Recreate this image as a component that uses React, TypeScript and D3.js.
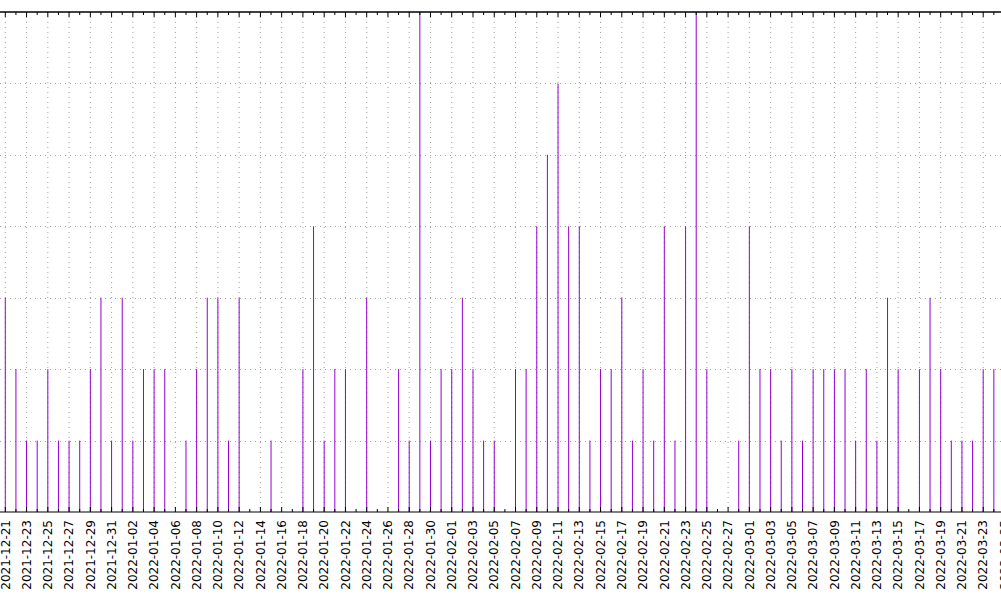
import React from 'react';
import * as d3 from 'd3';

// daily counts, starting at 2021-12-21
const startDay = '2021-12-21';
const counts: number[] = [
  3, 2, 1, 1, 2, 1, 1, 1, 2, 3, 1, 3, 1, 2, 2, 2, 0, 1, 2, 3,
  3, 1, 3, 0, 0, 1, 0, 0, 2, 4, 1, 2, 2, 0, 3, 0, 0, 2, 1, 7,
  1, 2, 2, 3, 2, 1, 1, 0, 2, 2, 4, 5, 6, 4, 4, 1, 2, 2, 3, 1,
  2, 1, 4, 1, 4, 7, 2, 0, 0, 1, 4, 2, 2, 1, 2, 1, 2, 2, 2, 2,
  1, 2, 1, 3, 2, 0, 2, 3, 2, 1, 1, 1, 2, 2,
];
const yTicks = [0, 1, 2, 3, 4, 5, 6, 7];

const width = 1001;
const height = 602;
const plotTop = 12;
const plotBottom = 512;
const purple = '#9400d3';
const gridColor = '#a0a0a0';

const parse = d3.utcParse('%Y-%m-%d');
const fmt = d3.utcFormat('%Y-%m-%d');

const App: React.FC = () => {
  const start = parse(startDay) as Date;
  const data = counts.map((v, i) => ({ date: d3.utcDay.offset(start, i), value: v }));

  const x = d3.scaleUtc()
    .domain([start, d3.utcDay.offset(start, 92)])
    .range([5.3, 983.2]);

  const y = d3.scaleLinear()
    .domain([0, 7])
    .range([plotBottom, plotTop]);

  const allDays = d3.utcDay.range(d3.utcDay.offset(start, -1), d3.utcDay.offset(start, 96));
  const majorDays = d3.utcDay.range(start, d3.utcDay.offset(start, 96), 2);

  return (
    <div style={{ position: 'absolute', left: 0, top: 0 }}>
      <svg width={width} height={height} style={{ display: 'block', background: '#fff' }}>
        {/* grid */}
        <g stroke={gridColor} strokeWidth={1} strokeDasharray="1,4">
          {yTicks.filter(t => t > 0 && t < 7).map(t => (
            <line key={`h${t}`} x1={0} x2={width} y1={Math.round(y(t)) + 0.5} y2={Math.round(y(t)) + 0.5} />
          ))}
          {majorDays.map(d => (
            <line key={`v${fmt(d)}`} x1={x(d)} x2={x(d)} y1={plotTop} y2={plotBottom} />
          ))}
        </g>

        {/* impulses */}
        <g stroke={purple} strokeWidth={1}>
          {data.filter(d => d.value > 0).map(d => (
            <line key={fmt(d.date)} x1={x(d.date)} x2={x(d.date)} y1={y(0)} y2={y(d.value)} />
          ))}
        </g>

        {/* ticks */}
        <g stroke="#000" strokeWidth={1}>
          {allDays.map(d => {
            const major = majorDays.some(m => +m === +d);
            const len = major ? 5 : 3;
            return (
              <g key={`t${fmt(d)}`}>
                <line x1={x(d)} x2={x(d)} y1={plotTop} y2={plotTop + len} />
                <line x1={x(d)} x2={x(d)} y1={plotBottom} y2={plotBottom - len} />
              </g>
            );
          })}
        </g>

        {/* border */}
        <line x1={0} x2={width} y1={plotTop} y2={plotTop} stroke="#000" strokeWidth={1.5} />
        <line x1={0} x2={width} y1={plotBottom} y2={plotBottom} stroke="#000" strokeWidth={1.2} />

        {/* x labels */}
        <g fontFamily="DejaVu Sans" fontSize={12} fill="#000">
          {majorDays.map(d => (
            <text
              key={`l${fmt(d)}`}
              transform={`translate(${x(d)},520) rotate(-90)`}
              textAnchor="end"
              dy="0.35em"
            >
              {fmt(d)}
            </text>
          ))}
        </g>
      </svg>
    </div>
  );
};

export default App;
